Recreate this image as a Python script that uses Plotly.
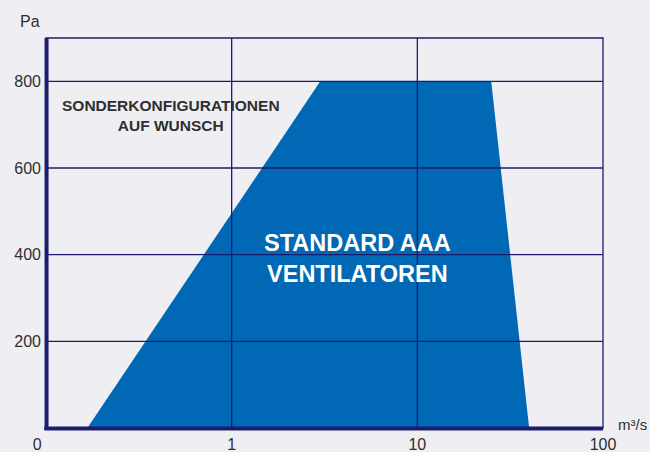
import plotly.graph_objects as go

# Data
area_x = [0.167, 3.0, 25.0, 40.0]
area_y = [0, 800, 800, 0]
x_tickvals = [0.1, 1, 10, 100]
x_ticktext = ["0\u2007\u2007", "1", "10", "100"]
y_tickvals = [200, 400, 600, 800]
y_ticktext = ["200", "400", "600", "800"]

NAVY = "#1c1c6e"
BLUE = "#0068b4"
BG = "#efeff3"
TXT = "#2e2e2e"
FONT = "Liberation Sans, Arial, sans-serif"

L, T, W, H = 46, 38, 557, 390


def px(xp):
    return (xp - L) / W


def py(yp):
    return (T + H - yp) / H


fig = go.Figure()
fig.add_trace(go.Scatter(
    x=area_x + [area_x[0]], y=area_y + [area_y[0]],
    fill="toself", fillcolor=BLUE, mode="lines",
    line=dict(color=BLUE, width=0), hoverinfo="skip", showlegend=False))

shapes = []
for xv in x_tickvals[1:-1]:
    shapes.append(dict(type="line", xref="x", yref="paper", x0=xv, x1=xv, y0=0, y1=1,
                       line=dict(color=NAVY, width=1.3), layer="above"))
for yv in y_tickvals:
    shapes.append(dict(type="line", xref="paper", yref="y", x0=0, x1=1, y0=yv, y1=yv,
                       line=dict(color=NAVY, width=1.3), layer="above"))
# frame
shapes.append(dict(type="rect", xref="paper", yref="paper", x0=0, x1=1, y0=0, y1=1,
                   line=dict(color=NAVY, width=1.3), layer="above"))
shapes.append(dict(type="line", xref="paper", yref="paper", x0=0.001, x1=0.001, y0=-0.005, y1=1,
                   line=dict(color=NAVY, width=4), layer="above"))
shapes.append(dict(type="line", xref="paper", yref="paper", x0=-0.003, x1=1, y0=-0.001, y1=-0.001,
                   line=dict(color=NAVY, width=4), layer="above"))

annotations = [
    dict(text="SONDERKONFIGURATIONEN<br>AUF WUNSCH", xref="paper", yref="paper",
         x=px(171), y=py(116), xanchor="center", yanchor="middle",
         showarrow=False, align="center",
         font=dict(family=FONT, size=15.5, color=TXT, weight="bold")),
    dict(text="STANDARD AAA<br>VENTILATOREN", xref="paper", yref="paper",
         x=px(357), y=py(258), xanchor="center", yanchor="middle",
         showarrow=False, align="center",
         font=dict(family=FONT, size=23.5, color="white", weight="bold")),
    dict(text="Pa", xref="paper", yref="paper", x=px(30), y=py(22), xanchor="center",
         yanchor="middle", showarrow=False, font=dict(family=FONT, size=16, color=TXT)),
    dict(text="m³/s", xref="paper", yref="paper", x=px(616), y=py(424), xanchor="left",
         yanchor="middle", showarrow=False, font=dict(family=FONT, size=15, color=TXT)),
]

fig.update_layout(
    width=650, height=452,
    margin=dict(l=L, r=650 - L - W, t=T, b=452 - T - H, autoexpand=False),
    paper_bgcolor=BG, plot_bgcolor=BG,
    shapes=shapes, annotations=annotations,
    xaxis=dict(type="log", range=[-1, 2], tickvals=x_tickvals, ticktext=x_ticktext,
               showgrid=False, zeroline=False, showline=False, ticks="", automargin=False,
               ticklabelstandoff=5,
               tickfont=dict(family=FONT, size=16, color=TXT)),
    yaxis=dict(range=[0, 900], tickvals=y_tickvals, ticktext=y_ticktext,
               showgrid=False, zeroline=False, showline=False, ticks="", automargin=False,
               ticklabelstandoff=4,
               tickfont=dict(family=FONT, size=16, color=TXT)),
)

fig.write_html(
    "out.html",
    config={"displayModeBar": False},
    post_script="document.body.style.margin='0';document.body.style.background='%s';" % BG,
)
